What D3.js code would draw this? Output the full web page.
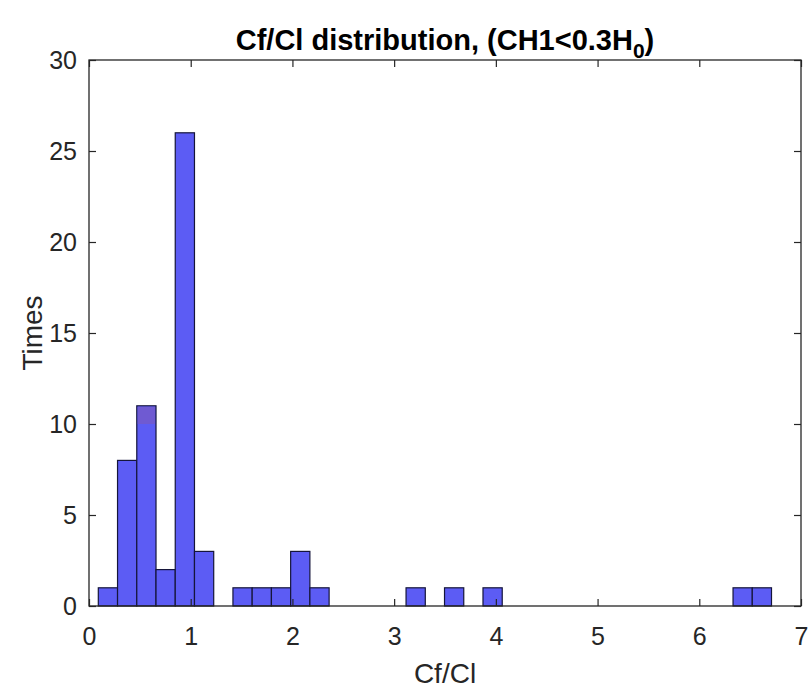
<!DOCTYPE html>
<html><head><meta charset="utf-8">
<script src="https://cdn.jsdelivr.net/npm/d3@7"></script>
<style>body{margin:0;background:#fff;} text{font-family:"Liberation Sans",Arial,sans-serif;}</style>
</head><body>
<svg id="c" width="809" height="691"></svg>
<script>
// Histogram data (35 equal bins between data min and max)
const binStart = 0.0915;
const binWidth = 0.1891;
const counts = [1,8,11,2,26,3,0,1,1,1,3,1,0,0,0,0,1,0,1,0,1,0,0,0,0,0,0,0,0,0,0,0,0,1,1];
// darker cap seen on one bar: [bin index, from, to]
const capBin = [2];
const capFrom = [10];
const capTo = [11];
const xTicks = [0,1,2,3,4,5,6,7];
const yTicks = [0,5,10,15,20,25,30];

const svg = d3.select("#c");
const m = {l:89, r:801, t:60, b:606};
const x = d3.scaleLinear().domain([0,7]).range([m.l, m.r]);
const y = d3.scaleLinear().domain([0,30]).range([m.b, m.t]);

const bins = counts.map((c,i)=>({x0: binStart + i*binWidth, x1: binStart + (i+1)*binWidth, c}));

svg.append("g").selectAll("rect").data(bins.filter(d=>d.c>0)).join("rect")
  .attr("x", d=>x(d.x0)).attr("width", d=>x(d.x1)-x(d.x0))
  .attr("y", d=>y(d.c)).attr("height", d=>y(0)-y(d.c))
  .attr("fill", "#5c5cf4").attr("stroke", "#15153a").attr("stroke-width", 1.2);

svg.append("g").selectAll("rect").data(capBin.map((b,i)=>({b, f:capFrom[i], t:capTo[i]}))).join("rect")
  .attr("x", d=>x(bins[d.b].x0)+1).attr("width", d=>x(bins[d.b].x1)-x(bins[d.b].x0)-2)
  .attr("y", d=>y(d.t)+1).attr("height", d=>y(d.f)-y(d.t)-1)
  .attr("fill", "#6f5ad2");

// box
svg.append("rect").attr("x", m.l).attr("y", m.t).attr("width", m.r-m.l).attr("height", m.b-m.t)
  .attr("fill","none").attr("stroke","#262626").attr("stroke-width",1.3);

const tk = 7;
const xa = svg.append("g").attr("transform", `translate(0,${m.b})`)
  .call(d3.axisBottom(x).tickValues(xTicks).tickSize(-tk).tickPadding(tk+14).tickFormat(d3.format("d")));
const xt = svg.append("g").attr("transform", `translate(0,${m.t})`)
  .call(d3.axisTop(x).tickValues(xTicks).tickSize(-tk).tickFormat(""));
const ya = svg.append("g").attr("transform", `translate(${m.l},0)`)
  .call(d3.axisLeft(y).tickValues(yTicks).tickSize(-tk).tickPadding(tk+5).tickFormat(d3.format("d")));
const yr = svg.append("g").attr("transform", `translate(${m.r},0)`)
  .call(d3.axisRight(y).tickValues(yTicks).tickSize(-tk).tickFormat(""));
[xa,xt,ya,yr].forEach(g=>{
  g.select(".domain").remove();
  g.selectAll(".tick line").attr("stroke","#262626").attr("stroke-width",1.2);
  g.selectAll(".tick text").attr("fill","#262626").style("font-size","25px").style("font-family","Liberation Sans, Arial, sans-serif");
});

svg.append("text").attr("x", (m.l+m.r)/2).attr("y", 683).attr("text-anchor","middle")
  .attr("fill","#262626").style("font-size","28px").text("Cf/Cl");
svg.append("text").attr("transform", `translate(42,${(m.t+m.b)/2}) rotate(-90)`).attr("text-anchor","middle")
  .attr("fill","#262626").style("font-size","28px").text("Times");

const title = svg.append("text").attr("x", (m.l+m.r)/2).attr("y", 50).attr("text-anchor","middle")
  .attr("fill","#000").style("font-size","29px").style("font-weight","bold");
title.append("tspan").text("Cf/Cl distribution, (CH1<0.3H");
title.append("tspan").attr("dy", 8).style("font-size","21px").text("0");
title.append("tspan").attr("dy", -8).text(")");
</script>
</body></html>
